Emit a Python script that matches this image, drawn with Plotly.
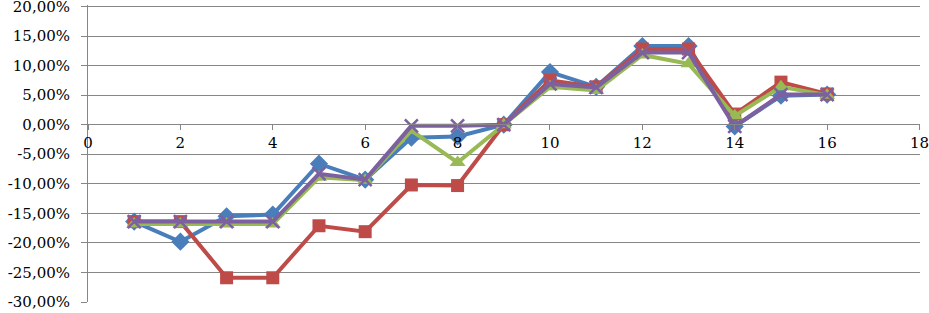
import plotly.graph_objects as go

x_vals = list(range(1, 17))
series_blue = [-16.4, -19.8, -15.5, -15.2, -6.6, -9.3, -2.2, -2.0, 0.0, 8.9, 6.4, 13.3, 13.3, -0.3, 4.9, 5.1]
series_red = [-16.4, -16.4, -25.9, -25.9, -17.1, -18.1, -10.2, -10.3, 0.0, 7.5, 6.4, 12.8, 12.8, 1.8, 7.2, 5.2]
series_green = [-16.8, -16.8, -16.8, -16.8, -8.9, -9.4, -1.0, -6.4, 0.0, 6.4, 5.8, 11.8, 10.3, 1.5, 6.4, 5.0]
series_purple = [-16.4, -16.4, -16.4, -16.4, -8.3, -9.3, -0.2, -0.2, 0.0, 6.9, 6.3, 12.2, 12.2, -0.3, 5.1, 5.1]

y_tickvals = [-30, -25, -20, -15, -10, -5, 0, 5, 10, 15, 20]
y_ticktext = ["-30,00%", "-25,00%", "-20,00%", "-15,00%", "-10,00%", "-5,00%",
              "0,00%", "5,00%", "10,00%", "15,00%", "20,00%"]
x_tickvals = [0, 2, 4, 6, 8, 10, 12, 14, 16, 18]

fig = go.Figure()
specs = [
    (series_blue, "#4A7EBB", "diamond", 14, 0),
    (series_red, "#BE4B48", "square", 13, 0),
    (series_green, "#98B954", "triangle-up", 14, 0),
    (series_purple, "#7D60A0", "x-thin", 13, 2.5),
]
for vals, col, sym, sz, lw in specs:
    fig.add_trace(go.Scatter(
        x=x_vals, y=vals, mode="lines+markers",
        line=dict(color=col, width=4),
        marker=dict(symbol=sym, size=sz, color=col,
                    line=dict(color=col, width=lw)),
        showlegend=False, cliponaxis=False, hoverinfo="skip",
    ))

serif = "DejaVu Serif"
fig.update_layout(
    width=929, height=313,
    margin=dict(l=88, r=9, t=5, b=11, autoexpand=False),
    paper_bgcolor="white", plot_bgcolor="white",
    font=dict(family=serif, size=15, color="black"),
    xaxis=dict(range=[0, 18.01], tickvals=x_tickvals, anchor="free", position=0.6,
               showgrid=False, showline=True, linecolor="#868686", linewidth=1,
               ticks="outside", ticklen=5, tickcolor="#868686", zeroline=False,
               automargin=False, ticklabeloverflow="allow",
               tickfont=dict(family=serif, size=15)),
    yaxis=dict(range=[-30, 20.25], tickvals=y_tickvals, ticktext=y_ticktext,
               showgrid=True, gridcolor="#868686", gridwidth=1,
               showline=True, linecolor="#868686", linewidth=1,
               ticks="outside", ticklen=6, tickcolor="#868686", zeroline=False,
               automargin=False, ticklabelstandoff=8, ticklabeloverflow="allow",
               tickfont=dict(family=serif, size=15)),
)
fig.write_html("out.html", config={"displayModeBar": False, "staticPlot": True},
               post_script="document.body.style.margin='0';document.body.style.overflow='hidden';")
